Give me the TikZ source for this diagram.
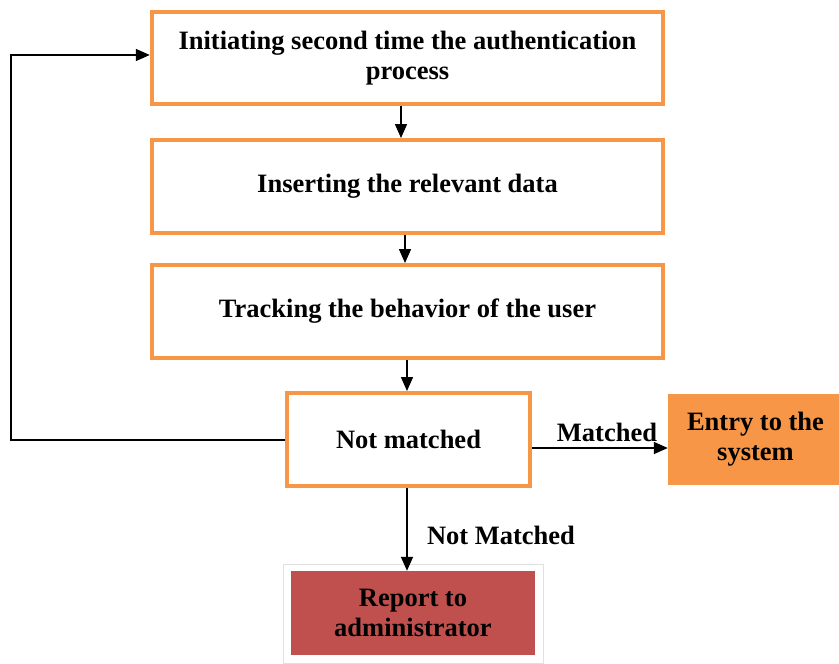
\documentclass[tikz,border=0pt]{standalone}
\usepackage{fontspec}
\setmainfont{Liberation Serif}
\usetikzlibrary{arrows.meta,calc}
\definecolor{boxorange}{HTML}{F79646}
\definecolor{boxred}{HTML}{C0504D}
\begin{document}
\begin{tikzpicture}[x=1pt,y=-1pt,
  txt/.style={font=\fontsize{26.5}{30}\selectfont\bfseries, align=center},
  obox/.style={draw=boxorange, line width=4.5pt, fill=white, txt},
  conn/.style={draw=black, line width=1.5pt, -{Triangle[length=14pt,width=12pt]}}
]
\useasboundingbox (0,0) rectangle (839,664);
\node[obox, minimum width=511pt, minimum height=92pt] (b1) at (407.5,58) {Initiating second time the authentication\\process};
\node[obox, minimum width=511pt, minimum height=93pt] (b2) at (407.5,186.5) {Inserting the relevant data};
\node[obox, minimum width=511pt, minimum height=93pt] (b3) at (407.5,311.5) {Tracking the behavior of the user};
\node[obox, minimum width=243pt, minimum height=93pt] (b4) at (408.5,439.5) {Not matched};
\node[fill=boxorange, txt, minimum width=175pt, minimum height=91pt, inner sep=0pt] (entry) at (755.5,439.5) {Entry to the\\system};
\node[fill=white, draw=black!12, line width=0.8pt, minimum width=260pt, minimum height=99pt, inner sep=0pt] (frame) at (413,613.5) {};
\node[fill=boxred, txt, minimum width=244pt, minimum height=84pt, inner sep=0pt] (rep) at (413,613) {Report to\\administrator};
\draw[conn] (b1.south -| 401,0) -- (401,138);
\draw[conn] (b2.south -| 405,0) -- (405,263);
\draw[conn] (b3.south -| 407,0) -- (407,391);
\draw[conn] (b4.south -| 407,0) -- (rep.north -| 407,0);
\draw[conn] (b4.east |- 0,448) -- (entry.west |- 0,448);
\coordinate (c1) at (11,440);
\coordinate (c2) at (11,55);
\draw[conn] (b4.west |- 0,440) -- (c1) -- (c2) -- (b1.west |- c2);
\node[txt, anchor=base] (lm) at (607,441) {Matched};
\node[txt, anchor=base] (lnm) at (501,544) {Not Matched};
\end{tikzpicture}
\end{document}
